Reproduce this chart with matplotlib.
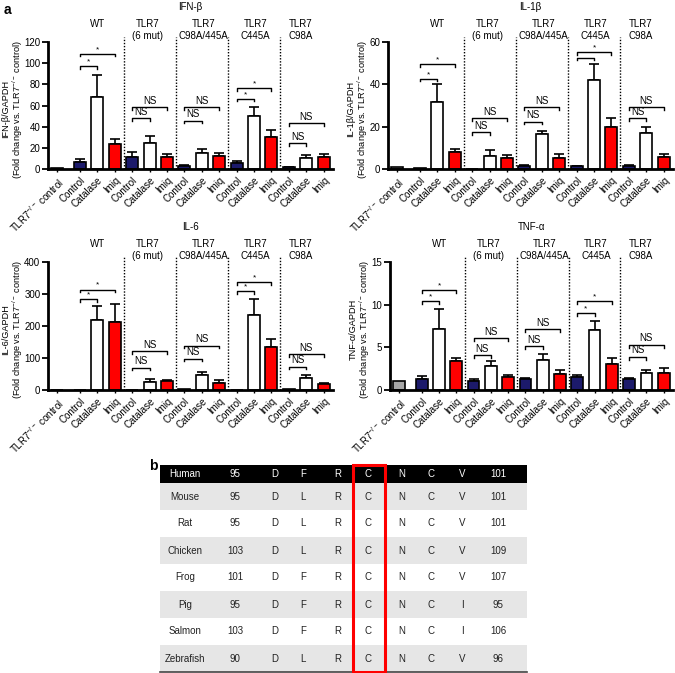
import numpy as np
import matplotlib
matplotlib.use('Agg')
import matplotlib.pyplot as plt
from matplotlib.patches import Rectangle
from matplotlib.transforms import blended_transform_factory, offset_copy

plt.rcParams['font.family'] = ['Liberation Sans', 'DejaVu Sans']
plt.rcParams['mathtext.default'] = 'regular'

# ---- data ----
tick_labels = ['TLR7$^{-/-}$ control'] + ['Control', 'Catalase', 'Imiq'] * 5
group_names = ['WT', 'TLR7\n(6 mut)', 'TLR7\nC98A/445A', 'TLR7\nC445A', 'TLR7\nC98A']
bar_kind = ['ko'] + ['ctrl', 'cat', 'imiq'] * 5
ylab_sub = '(Fold change vs. TLR7$^{-/-}$ control)'

ifnb_mean = [1, 7, 68, 24, 11.5, 25, 11, 3, 15, 12.5, 6, 50, 30, 2, 10.5, 11]
ifnb_err = [0, 2.5, 21, 4, 4.5, 6, 3, 0.7, 3.5, 3, 1.5, 8.5, 7, 0.3, 3, 3.5]
il1b_mean = [0.8, 0.3, 31.5, 8.2, 0.2, 6, 5.4, 1.5, 16.4, 5.2, 1.2, 42, 19.7, 1.5, 17, 5.5]
il1b_err = [0, 0, 8.5, 1.2, 0, 3, 1, 0.4, 1.7, 1.9, 0.3, 7.5, 4.6, 0.4, 3, 1.7]
il6_mean = [0, 0, 218, 213, 0, 26, 27, 3, 47, 23, 1, 235, 135, 3, 39, 18.5]
il6_err = [0, 0, 44, 56, 0, 7, 3.5, 0, 10, 9, 0, 48, 23, 0, 7, 3]
tnfa_mean = [1.0, 1.3, 7.1, 3.4, 1.1, 2.8, 1.55, 1.25, 3.55, 1.9, 1.55, 7.0, 3.0, 1.25, 2.05, 2.05]
tnfa_err = [0, 0.3, 2.4, 0.3, 0.15, 0.55, 0.15, 0.1, 0.65, 0.45, 0.25, 1.05, 0.7, 0.2, 0.3, 0.55]

# significance brackets per group: Control-Catalase (lower) and Control-Imiq (upper)
ifnb_low = [97, 48, 45.7, 66.5, 24.3]
ifnb_high = [109, 58.3, 58.3, 76.2, 43.1]
ifnb_sig = [('*', '*'), ('NS', 'NS'), ('NS', 'NS'), ('*', '*'), ('NS', 'NS')]
il1b_low = [42.7, 17.3, 22.4, 52.6, 23.9]
il1b_high = [49.4, 23.9, 29.4, 55.4, 29.4]
il1b_sig = [('*', '*'), ('NS', 'NS'), ('NS', 'NS'), ('', '*'), ('NS', 'NS')]
il6_low = [284, 70, 98, 310, 73]
il6_high = [314, 120.5, 139, 338, 111]
il6_sig = ifnb_sig
tnfa_low = [10.45, 4.1, 5.1, 9.0, 3.9]
tnfa_high = [11.75, 6.07, 7.13, 10.4, 5.3]
tnfa_sig = ifnb_sig

# table b
species = ['Human', 'Mouse', 'Rat', 'Chicken', 'Frog', 'Pig', 'Salmon', 'Zebrafish']
seq_start = [95, 95, 95, 103, 101, 95, 103, 90]
seq_motif = ['DFRCNCV', 'DLRCNCV', 'DLRCNCV', 'DLRCNCV', 'DFRCNCV', 'DFRCNCI', 'DFRCNCI', 'DLRCNCV']
seq_end = [101, 101, 101, 109, 107, 95, 106, 96]

colors = {'ko': '#a8a8a8', 'ctrl': '#1c1a6b', 'cat': 'white', 'imiq': '#ff0000'}
W, H = 675, 673
fig = plt.figure(figsize=(W / 100, H / 100), dpi=100)
fs = 7

xpos = np.r_[0, 1.32 + np.arange(15)]


def panel(rect_px, mean, err, yticks, title, ylab, low, high, sig, ylab_off):
    l, t, r, b = rect_px
    ax = fig.add_axes([l / W, 1 - b / H, (r - l) / W, (b - t) / H])
    ymax = yticks[-1]
    cols = [colors[k] for k in bar_kind]
    ax.bar(xpos, mean, width=0.68, color=cols, edgecolor='black', linewidth=1.2, zorder=2)
    e = np.array(err)
    m = e > 0
    ax.errorbar(xpos[m], np.array(mean)[m], yerr=[np.zeros(m.sum()), e[m]], fmt='none',
                ecolor='black', elinewidth=1.2, capsize=3.3, capthick=1.2, zorder=1)
    ax.set_xlim(-0.52, 15.86)
    ax.set_ylim(0, ymax)
    ax.set_yticks(yticks)
    ax.set_xticks(xpos)
    ax.set_xticklabels(tick_labels, rotation=45, ha='right', rotation_mode='anchor', fontsize=fs)
    ax.tick_params(axis='y', labelsize=fs, width=1.3, length=4, pad=1.5)
    ax.tick_params(axis='x', width=1.0, length=2.5, pad=2)
    for s in ['top', 'right']:
        ax.spines[s].set_visible(False)
    for s in ['left', 'bottom']:
        ax.spines[s].set_linewidth(2)

    # two-line y label placed line by line
    yc = 1 - (b - 0.47 * (b - t)) / H
    fig.text((l - ylab_off) / W, yc, ylab, rotation=90, ha='center', va='center', fontsize=6.6)
    fig.text((l - ylab_off + 11.5) / W, yc, ylab_sub, rotation=90, ha='center', va='center',
             fontsize=6.6)

    tr = blended_transform_factory(ax.transData, ax.transAxes)
    for xd in [3.82, 6.82, 9.82, 12.82]:
        ax.plot([xd, xd], [0, 1.04], transform=tr, color='black', ls=(0, (1, 1.2)),
                lw=1.0, clip_on=False)
    label_x = [2.32, 5.2, 8.4, 11.4, 14.0]
    lab_tr = offset_copy(ax.transAxes, fig=fig, y=23, units='dots')
    for gx, name in zip(label_x, group_names):
        ax.text(gx, 1.0, name, transform=blended_transform_factory(ax.transData, lab_tr),
                ha='center', va='top', fontsize=fs, linespacing=1.2)
    ttl_tr = offset_copy(ax.transAxes, fig=fig, y=35, units='dots')
    ax.text(0.5, 1.0, title, transform=ttl_tr, ha='center', va='center', fontsize=fs)

    drop = ymax * 0.022
    for g in range(5):
        c = xpos[1 + 3 * g]
        for tgt, h, lab in [(xpos[2 + 3 * g], low[g], sig[g][0]),
                            (xpos[3 + 3 * g], high[g], sig[g][1])]:
            ax.plot([c, c, tgt, tgt], [h - drop, h, h, h - drop], color='black', lw=1.0,
                    clip_on=False, zorder=3)
            if lab == '*':
                ax.text((c + tgt) / 2, h + ymax * 0.005, '*', ha='center', va='bottom',
                        fontsize=6, clip_on=False)
            elif lab:
                ax.text((c + tgt) / 2, h + ymax * 0.01, lab, ha='center', va='bottom',
                        fontsize=fs, clip_on=False)
    return ax


panel((48, 42, 333, 169), ifnb_mean, ifnb_err, [0, 20, 40, 60, 80, 100, 120], 'IFN-β',
      'IFN-β/GAPDH', ifnb_low, ifnb_high, ifnb_sig, 42)
panel((388, 42, 673, 169), il1b_mean, il1b_err, [0, 20, 40, 60], 'IL-1β',
      'IL-1β/GAPDH', il1b_low, il1b_high, il1b_sig, 37)
panel((48, 262, 333, 390), il6_mean, il6_err, [0, 100, 200, 300, 400], 'IL-6',
      'IL-6/GAPDH', il6_low, il6_high, il6_sig, 42)
panel((390, 262, 673, 390), tnfa_mean, tnfa_err, [0, 5, 10, 15], 'TNF-α',
      'TNF-α/GAPDH', tnfa_low, tnfa_high, tnfa_sig, 37)

# ---- overlay for table and panel letters (pixel coordinates) ----
ov = fig.add_axes([0, 0, 1, 1], zorder=-1)
ov.set_xlim(0, W)
ov.set_ylim(H, 0)
ov.axis('off')
ov.text(7, 10, 'a', fontsize=10, fontweight='bold', ha='center', va='center')
ov.text(153, 466, 'b', fontsize=10, fontweight='bold', ha='center', va='center')

tab_l, tab_r = 160, 527
col_x = [185, 235, 275, 303, 338, 368, 402, 431, 462, 498]
row_top = [465, 483] + [483 + 27 * i for i in range(1, 7)]
row_h = [18] + [27] * 7
for i, sp in enumerate(species):
    y0 = row_top[i]
    if i == 0:
        face, tc = 'black', 'white'
    elif i % 2 == 1:
        face, tc = '#e6e6e6', '#222222'
    else:
        face, tc = 'white', '#222222'
    ov.add_patch(Rectangle((tab_l, y0), tab_r - tab_l, row_h[i], facecolor=face,
                           edgecolor='none'))
    cells = [sp, str(seq_start[i])] + list(seq_motif[i]) + [str(seq_end[i])]
    for cx, txt in zip(col_x, cells):
        ov.text(cx, y0 + row_h[i] / 2, txt, ha='center', va='center', fontsize=fs, color=tc)
ov.plot([tab_l, tab_r], [672, 672], color='#444444', lw=1.2)
ov.add_patch(Rectangle((353, 465), 32, 207, facecolor='none', edgecolor='#ff0000', lw=2.2,
                       zorder=5))

fig.savefig('out.png', dpi=100, facecolor='white')
